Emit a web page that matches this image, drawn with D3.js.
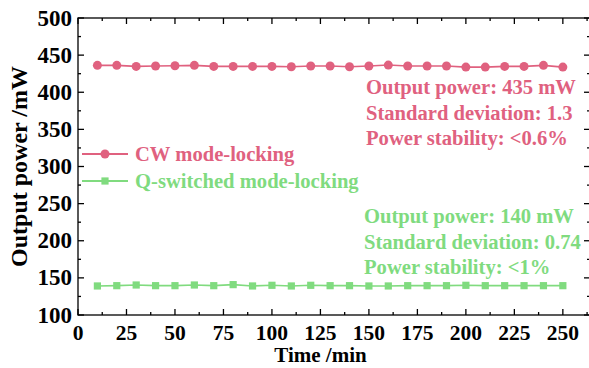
<!DOCTYPE html>
<html>
<head>
<meta charset="utf-8">
<script src="https://cdn.jsdelivr.net/npm/d3@7"></script>
<style>
  html, body { margin: 0; padding: 0; background: #fff; }
  svg text { font-family: "Liberation Serif", "Times New Roman", serif; font-weight: bold; }
</style>
</head>
<body>
<svg id="chart" width="589" height="368"></svg>
<script>
// Sampling times (min)
const times = [10, 20, 30, 40, 50, 60, 70, 80, 90, 100, 110, 120, 130, 140, 150,
               160, 170, 180, 190, 200, 210, 220, 230, 240, 250];
// Output power, CW mode-locking (mW)
const cwPower = [436.2, 436.2, 434.8, 435.3, 435.7, 436.2, 434.8, 434.8, 434.8, 434.8,
                 434.4, 435.3, 435.3, 434.4, 435.3, 436.6, 435.3, 435.3, 435.3, 433.9,
                 433.9, 434.8, 434.8, 436.2, 433.9];
// Output power, Q-switched mode-locking (mW)
const qsPower = [139.1, 139.5, 140.4, 139.5, 139.5, 140.4, 139.5, 140.9, 139.1, 140.0,
                 139.1, 140.0, 139.5, 139.5, 139.1, 139.1, 139.5, 139.5, 139.5, 140.0,
                 139.5, 139.5, 139.5, 139.5, 139.5];
const xTicks = [0, 25, 50, 75, 100, 125, 150, 175, 200, 225, 250];
const yTicks = [100, 150, 200, 250, 300, 350, 400, 450, 500];
const seriesNames = ["CW mode-locking", "Q-switched mode-locking"];
const cwNotes = ["Output power: 435 mW", "Standard deviation: 1.3", "Power stability: <0.6%"];
const qsNotes = ["Output power: 140 mW", "Standard deviation: 0.74", "Power stability: <1%"];

const pink = "#e0617f";
const green = "#80db7f";

const svg = d3.select("#chart");
const plotL = 78, plotR = 590, plotT = 18, plotB = 315;

const x = d3.scaleLinear().domain([0, 264]).range([plotL, plotR]);
const y = d3.scaleLinear().domain([100, 500]).range([plotB, plotT]);

const minorX = d3.range(12.5, 264, 25);
const minorY = d3.range(125, 500, 50);

// Frame
svg.append("rect")
  .attr("x", plotL).attr("y", plotT)
  .attr("width", plotR - plotL).attr("height", plotB - plotT)
  .attr("fill", "none").attr("stroke", "#000").attr("stroke-width", 1.3);

// Inward ticks on all four sides
const tickG = svg.append("g").attr("stroke", "#000").attr("stroke-width", 1.3);
function hTicks(vals, len) {
  vals.forEach(v => {
    tickG.append("line").attr("x1", x(v)).attr("x2", x(v)).attr("y1", plotB).attr("y2", plotB - len);
    tickG.append("line").attr("x1", x(v)).attr("x2", x(v)).attr("y1", plotT).attr("y2", plotT + len);
  });
}
function vTicks(vals, len) {
  vals.forEach(v => {
    tickG.append("line").attr("y1", y(v)).attr("y2", y(v)).attr("x1", plotL).attr("x2", plotL + len);
    tickG.append("line").attr("y1", y(v)).attr("y2", y(v)).attr("x1", plotR).attr("x2", plotR - len);
  });
}
hTicks(xTicks, 6); hTicks(minorX, 3);
vTicks(yTicks, 6); vTicks(minorY, 3);

// Tick labels
svg.append("g").selectAll("text").data(xTicks).join("text")
  .attr("x", d => x(d)).attr("y", 340)
  .attr("text-anchor", "middle").attr("font-size", 21.5)
  .text(d => d);
svg.append("g").selectAll("text").data(yTicks).join("text")
  .attr("x", 72).attr("y", d => y(d) + 7.5)
  .attr("text-anchor", "end").attr("font-size", 23)
  .text(d => d);

// Axis titles
svg.append("text").attr("x", (plotL + 563) / 2).attr("y", 362)
  .attr("text-anchor", "middle").attr("font-size", 21).text("Time /min");
svg.append("text")
  .attr("transform", `translate(27,${(plotT + plotB) / 2}) rotate(-90)`)
  .attr("text-anchor", "middle").attr("font-size", 24).text("Output power /mW");

// Series
const line = d3.line().x((d, i) => x(times[i])).y(d => y(d));
svg.append("path").datum(cwPower).attr("d", line)
  .attr("fill", "none").attr("stroke", pink).attr("stroke-width", 1.6);
svg.append("g").selectAll("circle").data(cwPower).join("circle")
  .attr("cx", (d, i) => x(times[i])).attr("cy", d => y(d)).attr("r", 4.5)
  .attr("fill", pink);

svg.append("path").datum(qsPower).attr("d", line)
  .attr("fill", "none").attr("stroke", green).attr("stroke-width", 1.6);
svg.append("g").selectAll("rect").data(qsPower).join("rect")
  .attr("x", (d, i) => x(times[i]) - 3.6).attr("y", d => y(d) - 3.6)
  .attr("width", 7.2).attr("height", 7.2)
  .attr("fill", green);

// Legend
const legend = [
  { name: seriesNames[0], color: pink, yy: 154, shape: "circle" },
  { name: seriesNames[1], color: green, yy: 181, shape: "square" }
];
legend.forEach(l => {
  svg.append("line").attr("x1", 82).attr("x2", 128).attr("y1", l.yy).attr("y2", l.yy)
    .attr("stroke", l.color).attr("stroke-width", 2);
  if (l.shape === "circle") {
    svg.append("circle").attr("cx", 105).attr("cy", l.yy).attr("r", 4.5).attr("fill", l.color);
  } else {
    svg.append("rect").attr("x", 101.4).attr("y", l.yy - 3.6).attr("width", 7.2).attr("height", 7.2).attr("fill", l.color);
  }
  svg.append("text").attr("x", 135).attr("y", l.yy + 7).attr("font-size", 20.6)
    .attr("fill", l.color).text(l.name);
});

// Annotations
cwNotes.forEach((t, i) => {
  svg.append("text").attr("x", 366).attr("y", 94 + i * 25.5).attr("font-size", 20.6)
    .attr("fill", pink).text(t);
});
qsNotes.forEach((t, i) => {
  svg.append("text").attr("x", 364).attr("y", 223 + i * 25.5).attr("font-size", 20.6)
    .attr("fill", green).text(t);
});
</script>
</body>
</html>
